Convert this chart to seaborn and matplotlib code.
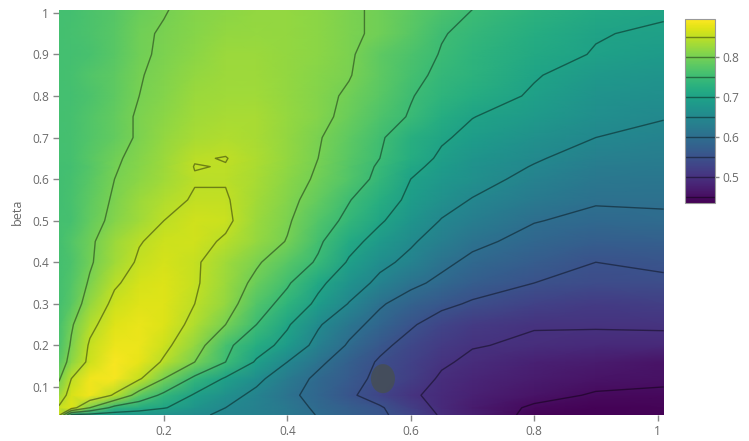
import numpy as np
import matplotlib
matplotlib.use("Agg")
import matplotlib.pyplot as plt
from matplotlib.patches import Ellipse
import seaborn as sns

alpha = [0.03, 0.05, 0.08, 0.12, 0.16, 0.2, 0.25, 0.3, 0.35, 0.4, 0.45, 0.5, 0.55, 0.6, 0.65, 0.7, 0.8, 0.9, 1.01]
beta = [0.0325, 0.05, 0.08, 0.12, 0.16, 0.2, 0.25, 0.3, 0.35, 0.4, 0.45, 0.5, 0.55, 0.6, 0.63, 0.65, 0.7, 0.75, 0.8, 0.85, 0.9, 0.95, 1.008]

# one row per beta
r03 = [.86, .69, .685, .68, .675, .665, .655, .645, .635, .62, .598, .575, .558, .53, .495, .475, .44, .437, .437]
r05 = [.855, .87, .80, .735, .72, .703, .675, .65, .635, .62, .592, .572, .555, .52, .49, .47, .445, .437, .44]
r08 = [.825, .868, .885, .845, .78, .74, .695, .665, .64, .61, .585, .557, .53, .505, .49, .478, .46, .447, .445]
r12 = [.795, .85, .885, .888, .855, .80, .74, .695, .66, .625, .59, .565, .54, .52, .495, .485, .47, .46, .455]
r16 = [.775, .815, .86, .89, .878, .845, .80, .75, .695, .65, .61, .575, .545, .525, .505, .493, .478, .47, .46]
r20 = [.763, .805, .855, .882, .882, .86, .82, .76, .72, .685, .635, .595, .56, .535, .515, .502, .495, .49, .488]
r25 = [.76, .795, .84, .872, .88, .87, .84, .80, .75, .705, .655, .615, .585, .555, .53, .515, .502, .503, .505]
r30 = [.758, .775, .82, .86, .872, .872, .85, .82, .77, .735, .69, .648, .605, .58, .56, .545, .526, .515, .52]
r35 = [.757, .77, .805, .845, .865, .87, .855, .825, .79, .755, .71, .672, .64, .61, .59, .57, .55, .54, .543]
r40 = [.757, .765, .795, .83, .855, .865, .855, .83, .805, .775, .745, .695, .66, .64, .61, .59, .568, .55, .557]
r45 = [.758, .77, .793, .825, .848, .86, .862, .845, .822, .798, .757, .715, .683, .655, .632, .61, .586, .57, .574]
r50 = [.757, .76, .785, .81, .83, .85, .862, .858, .825, .805, .77, .74, .705, .675, .648, .63, .602, .59, .595]
r55 = [.755, .762, .78, .805, .825, .84, .853, .853, .832, .81, .785, .752, .723, .69, .665, .648, .622, .604, .604]
r60 = [.755, .76, .775, .80, .815, .83, .848, .848, .835, .815, .795, .77, .74, .70, .68, .665, .638, .62, .616]
r63 = [.756, .757, .772, .797, .812, .827, .851, .849, .836, .818, .798, .772, .745, .71, .688, .67, .648, .627, .622]
r65 = [.757, .76, .775, .795, .81, .825, .848, .851, .838, .82, .80, .775, .75, .72, .693, .675, .654, .634, .628]
r70 = [.757, .76, .77, .785, .805, .82, .835, .84, .835, .82, .803, .78, .755, .725, .705, .69, .665, .65, .64]
r75 = [.757, .76, .77, .785, .805, .815, .83, .835, .835, .822, .81, .79, .766, .747, .72, .701, .683, .662, .652]
r80 = [.757, .757, .765, .78, .80, .81, .825, .83, .83, .82, .81, .795, .775, .752, .735, .72, .695, .672, .663]
r85 = [.757, .76, .77, .78, .798, .808, .82, .828, .828, .82, .812, .802, .78, .76, .742, .73, .703, .682, .673]
r90 = [.757, .757, .762, .775, .795, .805, .815, .825, .825, .82, .815, .805, .78, .765, .748, .735, .712, .698, .685]
r95 = [.757, .76, .765, .775, .795, .803, .812, .82, .822, .82, .815, .805, .795, .775, .752, .742, .72, .702, .695]
r100 = [.758, .758, .765, .773, .79, .798, .81, .815, .82, .82, .815, .805, .795, .78, .765, .75, .73, .715, .705]
rows = [r03, r05, r08, r12, r16, r20, r25, r30, r35, r40, r45, r50, r55, r60, r63, r65, r70, r75, r80, r85, r90, r95, r100]

levels = [.45, .5, .55, .6, .65, .7, .75, .8, .85]
x_ticks = [0.2, 0.4, 0.6, 0.8, 1]
x_labels = ["0.2", "0.4", "0.6", "0.8", "1"]
y_ticks = [0.1, 0.2, 0.3, 0.4, 0.5, 0.6, 0.7, 0.8, 0.9, 1]
y_labels = ["0.1", "0.2", "0.3", "0.4", "0.5", "0.6", "0.7", "0.8", "0.9", "1"]
cbar_ticks = [0.5, 0.6, 0.7, 0.8]
marker_x = 0.555
marker_y = 0.12

sns.set_style("white")
plt.rcParams["font.family"] = ["Open Sans", "DejaVu Sans"]
grey = "#6a6a6a"

z = np.array(rows)
cmap = sns.color_palette("viridis", as_cmap=True)
norm = matplotlib.colors.Normalize(vmin=0.435, vmax=0.895)

fig = plt.figure(figsize=(7.49, 4.41), dpi=100)
ax = fig.add_axes([59 / 749, 1 - 415 / 441, 605 / 749, 405.5 / 441])
mesh = ax.pcolormesh(alpha, beta, z, cmap=cmap, norm=norm, shading="gouraud")
cs = ax.contour(alpha, beta, z, levels=levels, colors="black", alpha=0.42, linewidths=1)
ax.add_patch(Ellipse((marker_x, marker_y), 0.039, 0.07, color="#454e58", alpha=0.9, lw=0))

ax.set_xlim(0.03, 1.0105)
ax.set_ylim(0.0325, 1.008)
ax.set_xticks(x_ticks, x_labels)
ax.set_yticks(y_ticks, y_labels)
ax.set_ylabel("beta", color=grey, fontsize=9, labelpad=6)
ax.tick_params(length=4, width=1, color="#888888", labelcolor=grey, labelsize=8.6, pad=3,
               bottom=True, left=True)
sns.despine(ax=ax, left=True, bottom=True)

cax = fig.add_axes([685 / 749, 1 - 203 / 441, 30 / 749, 184 / 441])
cbar = fig.colorbar(mesh, cax=cax, ticks=cbar_ticks)
cbar.add_lines(levels, [(0, 0, 0, 0.42)] * len(levels), [1] * len(levels))
cbar.ax.set_yticklabels(["0.5", "0.6", "0.7", "0.8"])
cbar.ax.tick_params(length=3, width=1, color="#888888", labelcolor=grey, labelsize=8.6, pad=2)
cbar.outline.set_edgecolor("#999999")

fig.savefig("out.png", dpi=100)
